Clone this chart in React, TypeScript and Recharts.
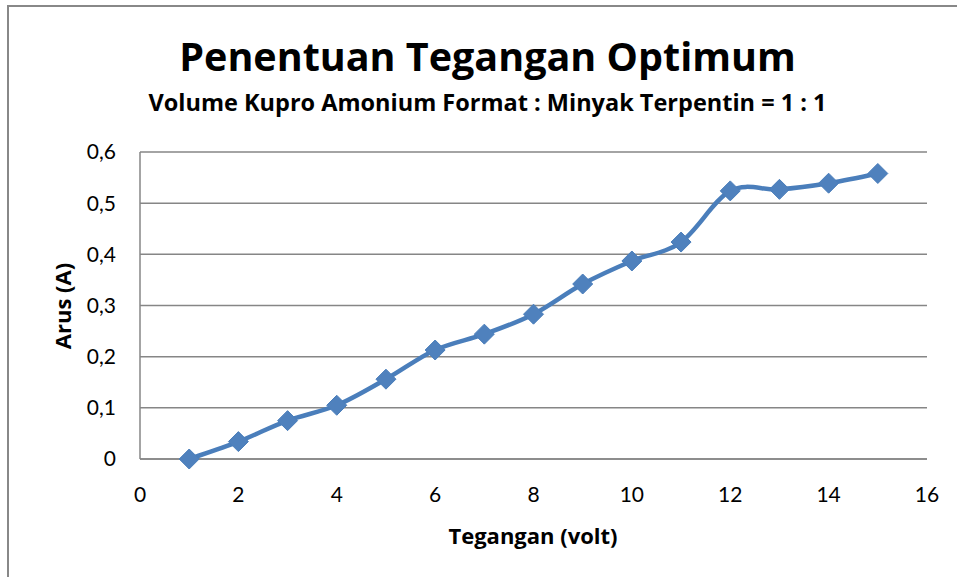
import { LineChart, Line, XAxis, YAxis, CartesianGrid } from 'recharts';

// tegangan (volt) dan arus (A)
const tegangan = [1, 2, 3, 4, 5, 6, 7, 8, 9, 10, 11, 12, 13, 14, 15];
const arus = [0, 0.034, 0.075, 0.105, 0.156, 0.213, 0.244, 0.283, 0.342, 0.387, 0.424, 0.524, 0.527, 0.539, 0.558];
const xTicks = [0, 2, 4, 6, 8, 10, 12, 14, 16];
const yTicks = [0, 0.1, 0.2, 0.3, 0.4, 0.5, 0.6];

const data = tegangan.map((v, i) => ({ volt: v, arus: arus[i] }));

const FONT = 'Lato, "Open Sans", sans-serif';
const BOLD = '"Open Sans", Lato, sans-serif';
const BLUE = '#4a7ebb';

// garis halus seperti "smoothed line" di Excel (Catmull-Rom)
const smoothCurve = (context: any) => {
  let pts: number[][] = [];
  return {
    areaStart() {},
    areaEnd() {},
    lineStart() {
      pts = [];
    },
    lineEnd() {
      if (!pts.length) return;
      context.moveTo(pts[0][0], pts[0][1]);
      for (let i = 0; i < pts.length - 1; i++) {
        const p0 = pts[i - 1] || pts[i];
        const p1 = pts[i];
        const p2 = pts[i + 1];
        const p3 = pts[i + 2] || p2;
        context.bezierCurveTo(
          p1[0] + (p2[0] - p0[0]) / 6,
          p1[1] + (p2[1] - p0[1]) / 6,
          p2[0] - (p3[0] - p1[0]) / 6,
          p2[1] - (p3[1] - p1[1]) / 6,
          p2[0],
          p2[1]
        );
      }
    },
    point(x: number, y: number) {
      pts.push([+x, +y]);
    },
  };
};

// marker belah ketupat ala Excel
const Diamond = (props: any) => {
  const { cx, cy, index } = props;
  if (cx == null || cy == null) return null;
  const r = 10;
  return (
    <path
      key={`d-${index}`}
      d={`M${cx},${cy - r}L${cx + r},${cy}L${cx},${cy + r}L${cx - r},${cy}Z`}
      fill="#4f81bd"
      stroke="#4a7ebb"
      strokeWidth={1}
    />
  );
};

const fmt = (v: number) => (v === 0 ? '0' : String(Number(v.toFixed(1))).replace('.', ','));

export default function App() {
  return (
    <div style={{ position: 'absolute', left: 0, top: 0, width: 957, height: 577, background: '#fff', overflow: 'hidden', fontFamily: FONT }}>
      <div
        style={{
          position: 'absolute',
          left: 7,
          top: 5,
          width: 980,
          height: 600,
          border: '2px solid #888',
          boxSizing: 'border-box',
        }}
      />
      <div
        style={{
          position: 'absolute',
          left: 0,
          width: 975,
          top: 31,
          textAlign: 'center',
          fontSize: 39.5,
          fontWeight: 700,
          fontFamily: BOLD,
          color: '#000',
          lineHeight: '50px',
        }}
      >
        Penentuan Tegangan Optimum
      </div>
      <div
        style={{
          position: 'absolute',
          left: 0,
          width: 975,
          top: 87,
          textAlign: 'center',
          fontSize: 23.5,
          fontWeight: 700,
          fontFamily: BOLD,
          color: '#000',
          lineHeight: '30px',
        }}
      >
        Volume Kupro Amonium Format : Minyak Terpentin = 1 : 1
      </div>
      <div
        style={{
          position: 'absolute',
          left: 62,
          top: 306,
          transform: 'translate(-50%, -50%) rotate(-90deg)',
          fontSize: 22,
          fontWeight: 700,
          fontFamily: BOLD,
          whiteSpace: 'nowrap',
          color: '#000',
        }}
      >
        Arus (A)
      </div>
      <div
        style={{
          position: 'absolute',
          left: 533,
          top: 535,
          transform: 'translate(-50%, -50%)',
          fontSize: 22,
          fontWeight: 700,
          fontFamily: BOLD,
          whiteSpace: 'nowrap',
          color: '#000',
        }}
      >
        Tegangan (volt)
      </div>
      <div style={{ position: 'absolute', left: 0, top: 0 }}>
        <LineChart width={957} height={577} data={data} margin={{ top: 152, right: 30, bottom: 78, left: 0 }}>
          <CartesianGrid horizontal vertical={false} stroke="#868686" strokeWidth={1.5} />
          <XAxis
            dataKey="volt"
            type="number"
            domain={[0, 16]}
            ticks={xTicks}
            height={40}
            tickLine={false}
            tickSize={0}
            tickMargin={28}
            axisLine={{ stroke: '#868686', strokeWidth: 1.5 }}
            tick={{ fill: '#000', fontSize: 21, fontFamily: FONT }}
          />
          <YAxis
            type="number"
            domain={[0, 0.6]}
            ticks={yTicks}
            width={140}
            tickLine={false}
            tickSize={0}
            tickMargin={24}
            tickFormatter={fmt}
            axisLine={{ stroke: '#868686', strokeWidth: 1.5 }}
            tick={{ fill: '#000', fontSize: 21, fontFamily: FONT }}
          />
          <Line
            type={smoothCurve as any}
            dataKey="arus"
            stroke={BLUE}
            strokeWidth={4.5}
            dot={<Diamond />}
            activeDot={false}
            isAnimationActive={false}
          />
        </LineChart>
      </div>
    </div>
  );
}
